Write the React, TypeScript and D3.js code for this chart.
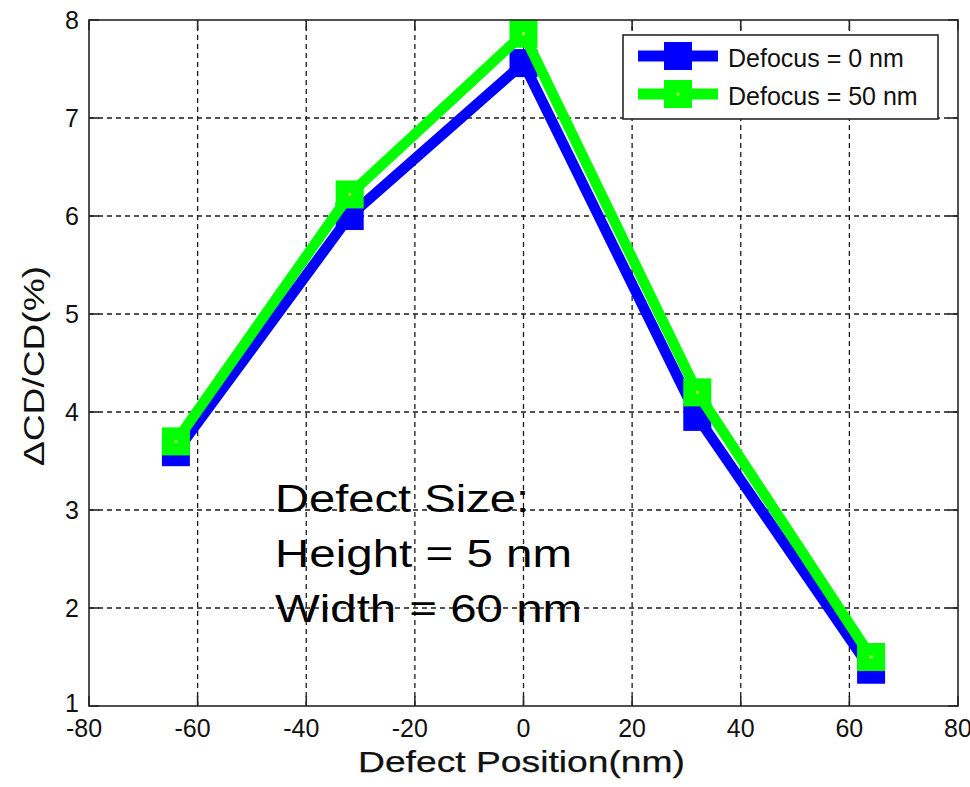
import React from 'react';
import * as d3 from 'd3';

// data
const positions = [-64, -32, 0, 32, 64];
const defocus0 = [3.59, 6.0, 7.56, 3.95, 1.37];
const defocus50 = [3.7, 6.22, 7.86, 4.2, 1.5];
const seriesNames = ['Defocus = 0 nm', 'Defocus = 50 nm'];
const seriesColors = ['#0000ff', '#00ff00'];
const xTicks = [-80, -60, -40, -20, 0, 20, 40, 60, 80];
const yTicks = [1, 2, 3, 4, 5, 6, 7, 8];
const noteLines = ['Defect Size:', 'Height = 5 nm', 'Width = 60 nm'];
const noteWidths = [254, 297, 307];

const W = 970;
const H = 787;
const margin = { left: 89, right: 12, top: 20, bottom: 81 };

export default function App() {
  const x = d3.scaleLinear().domain([-80, 80]).range([margin.left, W - margin.right]);
  const y = d3.scaleLinear().domain([1, 8]).range([H - margin.bottom, margin.top]);
  const [x0, x1] = x.range();
  const [y0, y1] = y.range();

  const line = d3.line<number>()
    .x((_, i) => x(positions[i]))
    .y((d) => y(d));

  const series = [defocus0, defocus50];
  const mk = 28;
  const font = '"Liberation Sans", Arial, sans-serif';

  return (
    <svg width={W} height={H} style={{ position: 'absolute', left: 0, top: 0, display: 'block' }}
      fontFamily={font}>
      <rect x={0} y={0} width={W} height={H} fill="#fff" />

      {/* grid */}
      <g stroke="#1a1a1a" strokeWidth={1.3} strokeDasharray="5,4">
        {xTicks.slice(1, -1).map((t) => (
          <line key={'gx' + t} x1={x(t)} x2={x(t)} y1={y0} y2={y1} />
        ))}
        {yTicks.slice(1, -1).map((t) => (
          <line key={'gy' + t} x1={x0} x2={x1} y1={y(t)} y2={y(t)} />
        ))}
      </g>

      {/* ticks, inside on all four sides */}
      <g stroke="#262626" strokeWidth={1.6}>
        {xTicks.map((t) => (
          <g key={'tx' + t}>
            <line x1={x(t)} x2={x(t)} y1={y0} y2={y0 - 10} />
            <line x1={x(t)} x2={x(t)} y1={y1} y2={y1 + 10} />
          </g>
        ))}
        {yTicks.map((t) => (
          <g key={'ty' + t}>
            <line x1={x0} x2={x0 + 10} y1={y(t)} y2={y(t)} />
            <line x1={x1} x2={x1 - 10} y1={y(t)} y2={y(t)} />
          </g>
        ))}
      </g>

      {/* series */}
      {series.map((vals, s) => (
        <g key={'s' + s}>
          <path d={line(vals) || ''} fill="none" stroke={seriesColors[s]} strokeWidth={10.5}
            strokeLinejoin="miter" />
          {vals.map((v, i) => (
            <g key={i}>
              <rect x={x(positions[i]) - mk / 2} y={y(v) - mk / 2} width={mk} height={mk}
                fill={seriesColors[s]} />
              {s === 1 && <rect x={x(positions[i]) - 1.5} y={y(v) - 1.5} width={3} height={3} fill="#9cf24a" />}
            </g>
          ))}
        </g>
      ))}

      {/* axes frame */}
      <rect x={x0} y={y1} width={x1 - x0} height={y0 - y1} fill="none" stroke="#262626" strokeWidth={1.6} />

      {/* tick labels */}
      <g fontSize={25} fill="#111">
        {xTicks.map((t) => (
          <text key={'lx' + t} x={x(t) + (t < 0 ? -5 : 0)} y={737} textAnchor="middle">{t}</text>
        ))}
        {yTicks.map((t) => (
          <text key={'ly' + t} x={79} y={y(t) - (t === 1 ? 3 : 0)} dy="0.36em" textAnchor="end">{t}</text>
        ))}
      </g>

      {/* axis labels */}
      <text x={521.5} y={771.5} textAnchor="middle" fontSize={30} fill="#111"
        textLength={327} lengthAdjust="spacingAndGlyphs" stroke="#111" strokeWidth={0.25}>
        Defect Position(nm)
      </text>
      <text transform="translate(44,366) rotate(-90)" textAnchor="middle" fontSize={29} fill="#111"
        textLength={200} lengthAdjust="spacingAndGlyphs">
        ΔCD/CD(%)
      </text>

      {/* legend */}
      <g>
        <rect x={623} y={35} width={315} height={84} fill="#fff" stroke="#262626" strokeWidth={1.6} />
        {seriesNames.map((name, s) => {
          const ly = 56 + s * 38;
          return (
            <g key={'lg' + s}>
              <line x1={638} x2={718} y1={ly} y2={ly} stroke={seriesColors[s]} strokeWidth={11} />
              <rect x={678 - mk / 2} y={ly - mk / 2} width={mk} height={mk} fill={seriesColors[s]} />
              {s === 1 && <rect x={676.5} y={ly - 1.5} width={3} height={3} fill="#9cf24a" />}
              <text x={728} y={ly + 10.5} fontSize={25} fill="#111">{name}</text>
            </g>
          );
        })}
      </g>

      {/* annotation */}
      <g fontSize={39} fill="#000">
        {noteLines.map((t, i) => (
          <text key={'n' + i} x={275} y={511.5 + i * 55} textLength={noteWidths[i]}
            lengthAdjust="spacingAndGlyphs">{t}</text>
        ))}
      </g>
    </svg>
  );
}
